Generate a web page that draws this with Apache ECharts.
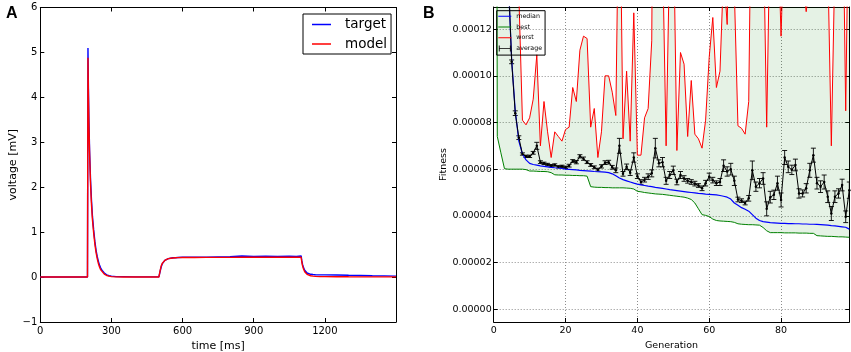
<!DOCTYPE html>
<html>
<head>
<meta charset="utf-8">
<title>voltage traces / fitness</title>
<script src="https://cdn.jsdelivr.net/npm/echarts@6/dist/echarts.min.js"></script>
<style>
	html, body { margin: 0; padding: 0; background: #fff; }
	#chart { width: 851px; height: 352px; }
</style>
</head>
<body>
<div id="chart"></div>
<script>
	// ---- panel A: voltage traces ----
	var timeMs = [0, 100, 199, 200, 201, 203, 205, 208, 212, 216,
		220, 225, 230, 235, 240, 245, 250, 255, 260, 270,
		280, 290, 300, 320, 350, 400, 450, 500, 503, 506,
		510, 515, 520, 525, 530, 540, 550, 560, 570, 580,
		600, 650, 700, 750, 800, 850, 900, 950, 1000, 1050,
		1080, 1100, 1103, 1106, 1110, 1115, 1120, 1125, 1130, 1140,
		1150, 1160, 1180, 1200, 1250, 1300, 1350, 1400, 1450, 1500];
	var targetMv = [0, 0, 0, 0, 5.1, 4.2, 3.5, 2.8, 2.15, 1.7,
		1.35, 1.05, 0.8, 0.6, 0.46, 0.35, 0.26, 0.2, 0.15, 0.09,
		0.05, 0.03, 0.02, 0.01, 0.01, 0.005, 0.005, 0.005, 0.02, 0.14,
		0.23, 0.3, 0.34, 0.37, 0.39, 0.41, 0.42, 0.43, 0.43, 0.435,
		0.44, 0.44, 0.445, 0.45, 0.455, 0.47, 0.46, 0.465, 0.46, 0.465,
		0.46, 0.47, 0.36, 0.28, 0.21, 0.15, 0.115, 0.09, 0.075, 0.062,
		0.056, 0.053, 0.05, 0.048, 0.045, 0.04, 0.036, 0.03, 0.026, 0.022];
	var modelMv = [0, 0, 0, 0, 4.88, 4.0, 3.35, 2.7, 2.05, 1.6,
		1.27, 0.98, 0.74, 0.55, 0.41, 0.3, 0.22, 0.16, 0.12, 0.065,
		0.035, 0.02, 0.01, 0.005, 0, 0, 0, 0, 0.02, 0.16,
		0.25, 0.31, 0.35, 0.37, 0.39, 0.41, 0.42, 0.425, 0.43, 0.432,
		0.435, 0.437, 0.438, 0.438, 0.439, 0.44, 0.44, 0.44, 0.44, 0.44,
		0.44, 0.44, 0.33, 0.25, 0.18, 0.12, 0.08, 0.06, 0.045, 0.03,
		0.02, 0.015, 0.01, 0.01, 0.008, 0.006, 0.005, 0.005, 0.004, 0.004];

	// ---- panel B: fitness per generation (values in units of 1e-5) ----
	var generation = [0, 1, 2, 3, 4, 5, 6, 7, 8, 9,
		10, 11, 12, 13, 14, 15, 16, 17, 18, 19,
		20, 21, 22, 23, 24, 25, 26, 27, 28, 29,
		30, 31, 32, 33, 34, 35, 36, 37, 38, 39,
		40, 41, 42, 43, 44, 45, 46, 47, 48, 49,
		50, 51, 52, 53, 54, 55, 56, 57, 58, 59,
		60, 61, 62, 63, 64, 65, 66, 67, 68, 69,
		70, 71, 72, 73, 74, 75, 76, 77, 78, 79,
		80, 81, 82, 83, 84, 85, 86, 87, 88, 89,
		90, 91, 92, 93, 94, 95, 96, 97, 98, 99];
	var worstFit = [140, 120, 100, 80, 60, 45, 30, 13.5, 8.1, 7.9,
		8.2, 9.0, 10.9, 7.0, 8.9, 7.6, 6.5, 7.6, 7.4, 7.2,
		7.7, 7.8, 9.5, 8.9, 11.1, 11.7, 11.6, 7.8, 8.6, 6.5,
		7.6, 10.0, 10.0, 9.3, 8.3, 20, 7.3, 10.2, 7.2, 12.7,
		6.6, 6.6, 8.2, 8.6, 11.5, 35, 30, 15.5, 7.0, 15.5,
		17, 6.8, 11.0, 10.5, 7.4, 9.8, 7.5, 7.3, 6.9, 8.1,
		10.8, 12.5, 9.5, 10.2, 14.5, 12.2, 20, 13.6, 7.86, 7.75,
		7.5, 8.9, 22, 30, 30, 17, 7.8, 17, 30, 17,
		11.7, 17, 30, 30, 30, 30, 14, 12.75, 14, 30,
		30, 30, 30, 15, 7.0, 15, 30, 20, 8.5, 20];
	var bestFit = [90, 7.4, 6.7, 6.02, 6.0, 6.0, 6.0, 6.0, 6.0, 5.98,
		5.92, 5.92, 5.91, 5.9, 5.9, 5.89, 5.85, 5.76, 5.75, 5.75,
		5.74, 5.74, 5.73, 5.73, 5.72, 5.72, 5.7, 5.25, 5.23, 5.22,
		5.22, 5.21, 5.21, 5.2, 5.2, 5.2, 5.2, 5.19, 5.18, 5.15,
		5.05, 5.03, 5.0, 4.98, 4.96, 4.94, 4.93, 4.92, 4.9, 4.88,
		4.86, 4.84, 4.82, 4.8, 4.76, 4.7, 4.55, 4.3, 4.05, 4.02,
		3.97, 3.86, 3.8, 3.78, 3.77, 3.76, 3.75, 3.72, 3.66, 3.64,
		3.63, 3.62, 3.62, 3.61, 3.6, 3.5, 3.36, 3.28, 3.28, 3.28,
		3.28, 3.27, 3.27, 3.27, 3.27, 3.26, 3.26, 3.26, 3.25, 3.25,
		3.15, 3.14, 3.13, 3.12, 3.12, 3.11, 3.1, 3.1, 3.09, 3.08];
	var medianFit = [50, 35, 24, 18, 14.3, 10.7, 8.5, 7.2, 6.65, 6.4,
		6.25, 6.2, 6.17, 6.14, 6.12, 6.1, 6.08, 6.06, 6.05, 6.03,
		6.0, 5.99, 5.98, 5.97, 5.95, 5.94, 5.93, 5.92, 5.9, 5.89,
		5.88, 5.87, 5.85, 5.8, 5.72, 5.62, 5.55, 5.5, 5.45, 5.4,
		5.36, 5.33, 5.3, 5.27, 5.25, 5.22, 5.2, 5.18, 5.15, 5.12,
		5.1, 5.08, 5.06, 5.04, 5.02, 5.0, 4.98, 4.96, 4.95, 4.93,
		4.92, 4.91, 4.9, 4.87, 4.84, 4.8, 4.72, 4.55, 4.45, 4.35,
		4.28, 4.2, 4.05, 3.9, 3.8, 3.75, 3.73, 3.71, 3.7, 3.69,
		3.68, 3.68, 3.67, 3.67, 3.66, 3.66, 3.65, 3.65, 3.64, 3.64,
		3.63, 3.62, 3.61, 3.6, 3.58, 3.57, 3.55, 3.53, 3.51, 3.43];
	var averageFit = [100, 70, 45, 28, 14.6, 10.6, 8.4, 7.35, 6.65, 6.55,
		6.55, 6.7, 7.0, 6.3, 6.25, 6.2, 6.15, 6.18, 6.1, 6.12,
		6.08, 6.15, 6.35, 6.3, 6.55, 6.45, 6.3, 6.18, 6.08, 5.98,
		6.12, 6.28, 6.3, 6.08, 5.95, 7.0, 5.8, 6.1, 5.85, 6.5,
		5.7, 5.45, 5.55, 5.68, 5.82, 6.9, 6.25, 6.3, 5.5, 5.75,
		5.95, 5.45, 5.75, 5.6, 5.5, 5.45, 5.38, 5.3, 5.18, 5.4,
		5.68, 5.53, 5.4, 5.45, 6.15, 5.9, 6.0, 5.5, 4.7, 4.65,
		4.55, 4.75, 5.95, 5.25, 5.4, 5.6, 4.3, 4.8, 4.9, 5.4,
		4.68, 6.5, 6.1, 5.97, 6.18, 4.96, 4.96, 5.18, 5.95, 6.6,
		5.4, 5.25, 5.45, 4.82, 4.1, 4.82, 4.96, 5.32, 3.96, 5.1];
	var averageErr = [0.3, 0.3, 0.3, 0.3, 0.3, 0.08, 0.1, 0.08, 0.05, 0.05,
		0.05, 0.06, 0.15, 0.06, 0.05, 0.05, 0.05, 0.05, 0.05, 0.05,
		0.05, 0.06, 0.06, 0.07, 0.07, 0.07, 0.06, 0.06, 0.06, 0.06,
		0.07, 0.08, 0.08, 0.08, 0.1, 0.32, 0.1, 0.12, 0.12, 0.2,
		0.1, 0.1, 0.1, 0.12, 0.15, 0.42, 0.15, 0.2, 0.15, 0.15,
		0.18, 0.12, 0.15, 0.12, 0.1, 0.1, 0.1, 0.08, 0.1, 0.12,
		0.15, 0.12, 0.1, 0.15, 0.25, 0.2, 0.25, 0.2, 0.1, 0.08,
		0.08, 0.12, 0.4, 0.2, 0.2, 0.25, 0.3, 0.25, 0.2, 0.3,
		0.3, 0.3, 0.25, 0.2, 0.25, 0.2, 0.15, 0.2, 0.3, 0.3,
		0.25, 0.25, 0.3, 0.25, 0.3, 0.25, 0.2, 0.25, 0.25, 0.35];
	var fitTicks = [0, 2, 4, 6, 8, 10, 12];

	var FONT = 'DejaVu Sans';

	function pairs(xs, ys) {
		return xs.map(function (x, i) { return [x, ys[i]]; });
	}

	// axis with a box line and inward ticks (matplotlib look)
	function frameAxis(extra) {
		return Object.assign({
			type: 'value',
			axisLine: { show: true, onZero: false, lineStyle: { color: '#000', width: 1 } },
			axisTick: { show: true, inside: true, length: 4, lineStyle: { color: '#000', width: 1 } },
			axisLabel: { show: false },
			splitLine: { show: false }
		}, extra);
	}

	// legend icons: corner dots keep the box size, the bar sits inside it
	var lineIconA = 'path://M0,0h0.01v0.01h-0.01z M0,4.3h19v1.4h-19z M27.99,9.99h0.01v0.01h-0.01z';
	var lineIconB = 'path://M0,0h0.01v0.01h-0.01z M0,3.5h13v1h-13z M12.99,7.99h0.01v0.01h-0.01z';
	var errIconB = 'path://M0,0h0.01v0.01h-0.01z M0.5,1h0.9v6h-0.9z M1,3.55h11v0.9h-11z M11.6,1h0.9v6h-0.9z M12.99,7.99h0.01v0.01h-0.01z';

	var bandRows = generation.map(function (g, i) { return [g, bestFit[i], worstFit[i]]; });
	var errRows = generation.map(function (g, i) {
		return [g, averageFit[i] - averageErr[i], averageFit[i] + averageErr[i]];
	});

	var chart = echarts.init(document.getElementById('chart'), null, { renderer: 'canvas' });

	var option = {
		animation: false,
		backgroundColor: '#fff',
		textStyle: { fontFamily: FONT, color: '#000' },
		grid: [
			{ left: 40.3, top: 7.5, right: 455, bottom: 30, outerBoundsMode: 'none' },
			{ left: 493.7, top: 7, right: 1.7, bottom: 30, outerBoundsMode: 'none' }
		],
		xAxis: [
			frameAxis({
				gridIndex: 0, position: 'bottom', min: 0, max: 1500, interval: 300,
				name: 'time [ms]', nameLocation: 'middle', nameGap: 14,
				nameTextStyle: { fontFamily: FONT, fontSize: 11, color: '#000' },
				axisLabel: {
					show: true, showMaxLabel: false, margin: 4, fontFamily: FONT, fontSize: 10, color: '#000',
					formatter: function (v) { return String(v); }
				}
			}),
			frameAxis({ gridIndex: 0, position: 'top', min: 0, max: 1500, interval: 300 }),
			frameAxis({
				gridIndex: 1, position: 'bottom', min: 0, max: 99, interval: 20,
				name: 'Generation', nameLocation: 'middle', nameGap: 14,
				nameTextStyle: { fontFamily: FONT, fontSize: 9.5, color: '#000' },
				axisLabel: {
					show: true, showMaxLabel: false, margin: 4, fontFamily: FONT, fontSize: 9.5, color: '#000',
					formatter: function (v) { return String(v); }
				},
				splitLine: { show: true, lineStyle: { color: '#8c8c8c', width: 1, type: [1, 2] } }
			}),
			frameAxis({ gridIndex: 1, position: 'top', min: 0, max: 99, interval: 20 })
		],
		yAxis: [
			frameAxis({
				gridIndex: 0, position: 'left', min: -1, max: 6, interval: 1,
				name: 'voltage [mV]', nameLocation: 'middle', nameGap: 22,
				nameTextStyle: { fontFamily: FONT, fontSize: 11, color: '#000' },
				axisLabel: {
					show: true, margin: 3, fontFamily: FONT, fontSize: 10, color: '#000',
					formatter: function (v) { return v < 0 ? '\u2212' + (-v) : String(v); }
				}
			}),
			frameAxis({ gridIndex: 0, position: 'right', min: -1, max: 6, interval: 1 }),
			frameAxis({
				gridIndex: 1, position: 'left', min: -0.55, max: 12.95,
				name: 'Fitness', nameLocation: 'middle', nameGap: 42,
				nameTextStyle: { fontFamily: FONT, fontSize: 9.5, color: '#000' },
				axisTick: { show: true, inside: true, length: 4, customValues: fitTicks, lineStyle: { color: '#000' } },
				axisLabel: {
					show: true, margin: 2, fontFamily: FONT, fontSize: 9.5, color: '#000', customValues: fitTicks,
					formatter: function (v) { return (v * 1e-5).toFixed(5); }
				},
				splitLine: { show: true, lineStyle: { color: '#8c8c8c', width: 1, type: [1, 2] } }
			}),
			frameAxis({
				gridIndex: 1, position: 'right', min: -0.55, max: 12.95,
				axisTick: { show: true, inside: true, length: 4, customValues: fitTicks, lineStyle: { color: '#000' } }
			})
		],
		legend: [
			{
				data: [{ name: 'target', icon: lineIconA }, { name: 'model', icon: lineIconA }],
				orient: 'vertical', left: 303, top: 14,
				itemWidth: 28, itemHeight: 10, itemGap: 5.5,
				padding: [3.5, 4, 3, 9],
				borderColor: '#000', borderWidth: 1, borderRadius: 0,
				backgroundColor: '#fff',
				selectedMode: false,
				itemStyle: { borderWidth: 0 },
				textStyle: { fontFamily: FONT, fontSize: 13.5, color: '#000' }
			},
			{
				data: [{ name: 'median', icon: lineIconB }, { name: 'best', icon: lineIconB },
					{ name: 'worst', icon: lineIconB }, { name: 'average', icon: errIconB }],
				orient: 'vertical', left: 496.7, top: 10.7,
				itemWidth: 13, itemHeight: 8, itemGap: 2.8,
				padding: [1.5, 3, 2.5, 1.6],
				borderColor: '#000', borderWidth: 1, borderRadius: 0,
				backgroundColor: 'transparent',
				selectedMode: false,
				itemStyle: { borderWidth: 0 },
				textStyle: { fontFamily: FONT, fontSize: 6.3, color: '#000' }
			}
		],
		graphic: [
			{ type: 'text', left: 6, top: 6, style: { text: 'A', font: 'bold 16px "Liberation Sans"', fill: '#000' } },
			{ type: 'text', left: 423, top: 6, style: { text: 'B', font: 'bold 16px "Liberation Sans"', fill: '#000' } }
		],
		series: [
			{
				name: 'target', type: 'line', xAxisIndex: 0, yAxisIndex: 0,
				data: pairs(timeMs, targetMv), showSymbol: false, symbol: 'none',
				itemStyle: { color: '#0000ff' }, lineStyle: { color: '#0000ff', width: 1.4 }
			},
			{
				name: 'model', type: 'line', xAxisIndex: 0, yAxisIndex: 0,
				data: pairs(timeMs, modelMv), showSymbol: false, symbol: 'none',
				itemStyle: { color: '#ff0000' }, lineStyle: { color: '#ff0000', width: 1.4 }
			},
			// shaded band between best and worst: one polygon built through the axis scales
			{
				name: 'band', type: 'custom', xAxisIndex: 2, yAxisIndex: 2, clip: true, silent: true,
				data: bandRows,
				renderItem: function (params, api) {
					if (params.dataIndex !== 0) return null;
					var pts = [];
					bandRows.forEach(function (r) { pts.push(api.coord([r[0], r[1]])); });
					for (var i = bandRows.length - 1; i >= 0; i--) {
						pts.push(api.coord([bandRows[i][0], bandRows[i][2]]));
					}
					return {
						type: 'polygon',
						shape: { points: pts },
						style: { fill: 'rgba(0,128,0,0.1)', stroke: null }
					};
				}
			},
			{
				name: 'worst', type: 'line', xAxisIndex: 2, yAxisIndex: 2,
				data: pairs(generation, worstFit), symbol: 'none',
				itemStyle: { color: '#ff0000' }, lineStyle: { color: '#ff0000', width: 1 }
			},
			{
				name: 'best', type: 'line', xAxisIndex: 2, yAxisIndex: 2,
				data: pairs(generation, bestFit), symbol: 'none',
				itemStyle: { color: '#008000' }, lineStyle: { color: '#008000', width: 1 }
			},
			{
				name: 'median', type: 'line', xAxisIndex: 2, yAxisIndex: 2,
				data: pairs(generation, medianFit), symbol: 'none',
				itemStyle: { color: '#0000ff' }, lineStyle: { color: '#0000ff', width: 1.2 }
			},
			{
				name: 'average', type: 'custom', xAxisIndex: 2, yAxisIndex: 2, clip: true,
				itemStyle: { color: '#000' },
				data: errRows,
				renderItem: function (params, api) {
					var x = api.value(0);
					var lo = api.coord([x, api.value(1)]);
					var hi = api.coord([x, api.value(2)]);
					var w = 2.5;
					var st = { stroke: '#000', lineWidth: 0.9 };
					return {
						type: 'group',
						children: [
							{ type: 'line', shape: { x1: lo[0], y1: lo[1], x2: hi[0], y2: hi[1] }, style: st },
							{ type: 'line', shape: { x1: lo[0] - w, y1: lo[1], x2: lo[0] + w, y2: lo[1] }, style: st },
							{ type: 'line', shape: { x1: hi[0] - w, y1: hi[1], x2: hi[0] + w, y2: hi[1] }, style: st }
						]
					};
				}
			},
			{
				name: 'average', type: 'line', xAxisIndex: 2, yAxisIndex: 2,
				data: pairs(generation, averageFit), symbol: 'circle', symbolSize: 2.5, showSymbol: true,
				itemStyle: { color: '#000' }, lineStyle: { color: '#000', width: 1 }
			}
		]
	};

	chart.setOption(option);
</script>
</body>
</html>
